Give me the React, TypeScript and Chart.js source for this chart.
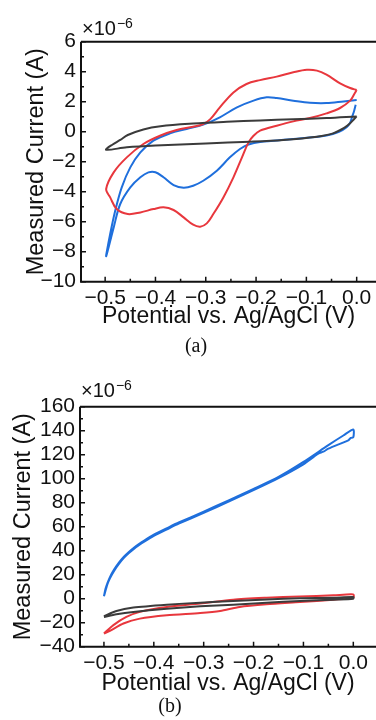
import React, { useEffect, useRef } from "react";
import { Chart, registerables } from "chart.js";

Chart.register(...registerables);

// ---------- Data: chart (a) ----------
const xTicksA = [-0.5, -0.4, -0.3, -0.2, -0.1, 0.0];
const xTickLabelsA = ["−0.5", "−0.4", "−0.3", "−0.2", "−0.1", "0.0"];
const xMinorA = [-0.45, -0.35, -0.25, -0.15, -0.05];
const yTicksA = [-10, -8, -6, -4, -2, 0, 2, 4, 6];
const yTickLabelsA = ["−10", "−8", "−6", "−4", "−2", "0", "2", "4", "6"];
const yMinorA = [-9, -7, -5, -3, -1, 1, 3, 5];

const blackA: [number, number][] = [
  [0.0, 1.02], [-0.005, 0.85], [-0.013, 0.56], [-0.025, 0.25], [-0.047, -0.11],
  [-0.079, -0.33], [-0.146, -0.55], [-0.212, -0.67], [-0.3, -0.78], [-0.4, -0.92],
  [-0.457, -1.04], [-0.498, -1.2], [-0.485, -0.85], [-0.47, -0.55], [-0.455, -0.22],
  [-0.424, 0.15], [-0.39, 0.36], [-0.325, 0.54], [-0.258, 0.66], [-0.192, 0.75],
  [-0.126, 0.83], [-0.06, 0.91], [0.0, 1.02],
];

const redA: [number, number][] = [
  [0.0, 2.78], [-0.005, 2.5], [-0.013, 2.07], [-0.033, 1.58], [-0.06, 1.22],
  [-0.093, 0.91], [-0.126, 0.69], [-0.159, 0.4], [-0.192, 0.07], [-0.205, -0.27],
  [-0.215, -0.71], [-0.228, -1.71], [-0.245, -3.04], [-0.265, -4.38], [-0.285, -5.49],
  [-0.298, -6.11], [-0.311, -6.33], [-0.325, -6.2], [-0.344, -5.71], [-0.364, -5.22],
  [-0.384, -5.04], [-0.404, -5.16], [-0.43, -5.38], [-0.455, -5.49], [-0.477, -5.16],
  [-0.49, -4.38], [-0.498, -3.82], [-0.483, -2.71], [-0.457, -1.71], [-0.424, -0.82],
  [-0.391, -0.27], [-0.358, 0.11], [-0.325, 0.33], [-0.305, 0.51], [-0.291, 0.84],
  [-0.272, 1.62], [-0.245, 2.62], [-0.219, 3.18], [-0.192, 3.44], [-0.159, 3.67],
  [-0.126, 3.96], [-0.099, 4.13], [-0.079, 4.07], [-0.06, 3.8], [-0.033, 3.22],
  [-0.013, 2.91], [0.0, 2.78],
];

const blueA: [number, number][] = [
  [-0.002, 1.8], [-0.005, 1.4], [-0.009, 1.0], [-0.013, 0.6], [-0.02, 0.3],
  [-0.035, 0.0], [-0.06, -0.25], [-0.126, -0.49], [-0.192, -0.68], [-0.215, -0.85],
  [-0.232, -1.15], [-0.252, -1.71], [-0.278, -2.6], [-0.305, -3.27], [-0.325, -3.6],
  [-0.344, -3.74], [-0.364, -3.56], [-0.384, -3.04], [-0.4, -2.7], [-0.414, -2.71],
  [-0.43, -3.04], [-0.45, -3.71], [-0.47, -4.82], [-0.483, -6.38], [-0.498, -8.3],
  [-0.49, -6.82], [-0.48, -5.27], [-0.467, -3.71], [-0.45, -2.38], [-0.43, -1.38],
  [-0.404, -0.6], [-0.371, -0.11], [-0.338, 0.18], [-0.305, 0.47], [-0.272, 0.96],
  [-0.238, 1.62], [-0.205, 2.07], [-0.179, 2.29], [-0.159, 2.24], [-0.126, 2.07],
  [-0.093, 1.93], [-0.06, 1.91], [-0.026, 2.02], [0.0, 2.11],
];

// ---------- Data: chart (b) ----------
const xTicksB = [-0.5, -0.4, -0.3, -0.2, -0.1, 0.0];
const xTickLabelsB = ["−0.5", "−0.4", "−0.3", "−0.2", "−0.1", "0.0"];
const xMinorB = [-0.45, -0.35, -0.25, -0.15, -0.05];
const yTicksB = [-40, -20, 0, 20, 40, 60, 80, 100, 120, 140, 160];
const yTickLabelsB = ["−40", "−20", "0", "20", "40", "60", "80", "100", "120", "140", "160"];
const yMinorB = [-30, -10, 10, 30, 50, 70, 90, 110, 130, 150];

const blackB: [number, number][] = [
  [-0.5, -14.6], [-0.475, -10.2], [-0.441, -7.4], [-0.374, -5.0], [-0.307, -3.3],
  [-0.241, -1.9], [-0.174, -0.6], [-0.107, 0.3], [-0.04, 0.8], [0.0, 1.4],
  [0.0, 0.0], [-0.04, -0.8], [-0.107, -1.9], [-0.174, -3.3], [-0.241, -5.0],
  [-0.307, -6.3], [-0.374, -8.3], [-0.441, -11.0], [-0.475, -13.0], [-0.5, -15.2],
];

const redB: [number, number][] = [
  [-0.5, -29], [-0.481, -22], [-0.455, -15.2], [-0.428, -11], [-0.374, -6.9],
  [-0.307, -4.1], [-0.241, -0.8], [-0.174, 0.8], [-0.107, 1.9], [-0.04, 2.8],
  [0.0, 3.6], [0.0, 0.8], [-0.04, -0.8], [-0.107, -2.8], [-0.174, -4.7],
  [-0.228, -6.9], [-0.267, -10.2], [-0.307, -11.9], [-0.374, -13.8], [-0.428, -16.6],
  [-0.461, -20.7], [-0.488, -26.8], [-0.5, -29],
];

const blueB: [number, number][] = [
  [-0.5, 2], [-0.497, 8], [-0.493, 13], [-0.488, 18], [-0.48, 24], [-0.47, 30],
  [-0.46, 35], [-0.45, 39], [-0.44, 42.5], [-0.43, 45.5], [-0.42, 48.3], [-0.4, 53.3],
  [-0.37, 59.5], [-0.35, 63.5], [-0.3, 72.5], [-0.25, 82], [-0.2, 91.5], [-0.15, 101.5],
  [-0.1, 114], [-0.05, 128], [-0.02, 136], [0.0, 141],
  [0.0, 134.5], [-0.005, 134], [-0.01, 132], [-0.05, 125], [-0.06, 122.5], [-0.07, 121],
  [-0.08, 118], [-0.1, 112], [-0.15, 100.5], [-0.2, 90.5], [-0.25, 81], [-0.3, 71.5],
  [-0.35, 62.5], [-0.37, 58.5], [-0.4, 52.3], [-0.42, 47.3], [-0.43, 44.5], [-0.44, 41.5],
  [-0.45, 38], [-0.46, 34], [-0.47, 29], [-0.48, 23], [-0.488, 17], [-0.493, 12], [-0.5, 2],
];

const BLACK = "#3b3b3b";
const RED = "#e8373d";
const BLUE = "#1f6fdc";
const INK = "#111111";
const SANS = '"Liberation Sans", Arial, sans-serif';
const SERIF = '"Liberation Serif", "Times New Roman", serif';

const framePlugin = {
  id: "frame",
  afterDraw(chart: any, _args: any, opts: any) {
    const { ctx, chartArea: a, scales } = chart;
    const x = scales.x;
    const y = scales.y;
    ctx.save();
    ctx.strokeStyle = INK;
    ctx.lineWidth = 2;
    ctx.beginPath();
    ctx.moveTo(a.left, a.top);
    ctx.lineTo(a.left, a.bottom);
    ctx.lineTo(a.right, a.bottom);
    ctx.moveTo(a.left, a.top);
    ctx.lineTo(chart.width, a.top);
    ctx.stroke();
    ctx.lineWidth = 1.5;
    ctx.beginPath();
    const xt = (vals: number[], len: number) => {
      vals.forEach((v) => {
        const px = x.getPixelForValue(v);
        ctx.moveTo(px, a.bottom);
        ctx.lineTo(px, a.bottom - len);
      });
    };
    const yt = (vals: number[], len: number) => {
      vals.forEach((v) => {
        const py = y.getPixelForValue(v);
        ctx.moveTo(a.left, py);
        ctx.lineTo(a.left + len, py);
      });
    };
    xt(opts.xMajor, 5);
    xt(opts.xMinor, 3);
    yt(opts.yMajor, 5);
    yt(opts.yMinor, 3);
    ctx.stroke();

    // exponent label
    ctx.fillStyle = INK;
    ctx.textAlign = "left";
    ctx.textBaseline = "alphabetic";
    ctx.font = `20px ${SANS}`;
    const bx = a.left + 1;
    const by = a.top - opts.expGap;
    ctx.fillText("×10", bx, by);
    const w = ctx.measureText("×10").width;
    ctx.font = `14px ${SANS}`;
    ctx.fillText("−6", bx + w + 1, by - 7);

    // caption
    ctx.font = `20px ${SERIF}`;
    ctx.textAlign = "center";
    ctx.textBaseline = "middle";
    ctx.fillText(opts.caption, opts.captionX, opts.captionY);
    ctx.restore();
  },
};

type Cfg = {
  top: number;
  series: { pts: [number, number][]; color: string }[];
  xMin: number;
  xMax: number;
  yMin: number;
  yMax: number;
  xTicks: number[];
  xLabels: string[];
  xMinor: number[];
  yTicks: number[];
  yLabels: string[];
  yMinor: number[];
  padTop: number;
  yAxisW: number;
  xAxisH: number;
  yTitlePad: number;
  xTitlePad: number;
  expGap: number;
  caption: string;
  captionX: number;
  tension: number;
};

function CVChart({ cfg }: { cfg: Cfg }) {
  const ref = useRef<HTMLCanvasElement>(null);
  useEffect(() => {
    if (!ref.current) return;
    const chart = new Chart(ref.current, {
      type: "scatter",
      data: {
        datasets: cfg.series.map((s) => ({
          data: s.pts.map(([px, py]) => ({ x: px, y: py })),
          borderColor: s.color,
          backgroundColor: s.color,
          borderWidth: 2,
          showLine: true,
          pointRadius: 0,
          tension: cfg.tension,
          fill: false,
        })),
      },
      options: {
        animation: false,
        responsive: true,
        maintainAspectRatio: false,
        layout: { padding: { top: cfg.padTop, left: 0, right: 0, bottom: 0 } },
        plugins: {
          legend: { display: false },
          tooltip: { enabled: false },
          frame: {
            xMajor: cfg.xTicks,
            xMinor: cfg.xMinor,
            yMajor: cfg.yTicks,
            yMinor: cfg.yMinor,
            expGap: cfg.expGap,
            caption: cfg.caption,
            captionX: cfg.captionX,
            captionY: 347,
          },
        } as any,
        scales: {
          x: {
            type: "linear",
            min: cfg.xMin,
            max: cfg.xMax,
            grid: { display: false, drawTicks: false },
            border: { display: false },
            afterBuildTicks: (s: any) => {
              s.ticks = cfg.xTicks.map((v) => ({ value: v }));
            },
            afterFit: (s: any) => {
              s.height = cfg.xAxisH;
            },
            ticks: {
              autoSkip: false,
              maxRotation: 0,
              padding: 4,
              color: INK,
              font: { family: SANS, size: 21 },
              callback: (_v: any, i: number) => cfg.xLabels[i],
            },
            title: {
              display: true,
              text: "Potential vs. Ag/AgCl (V)",
              color: INK,
              font: { family: SANS, size: 23 },
              padding: { top: 0, bottom: cfg.xTitlePad },
            },
          },
          y: {
            type: "linear",
            min: cfg.yMin,
            max: cfg.yMax,
            grid: { display: false, drawTicks: false },
            border: { display: false },
            afterBuildTicks: (s: any) => {
              s.ticks = cfg.yTicks.map((v) => ({ value: v }));
            },
            afterFit: (s: any) => {
              s.width = cfg.yAxisW;
            },
            ticks: {
              autoSkip: false,
              padding: 5,
              color: INK,
              font: { family: SANS, size: 21 },
              callback: (_v: any, i: number) => cfg.yLabels[i],
            },
            title: {
              display: true,
              text: "Measured Current (A)",
              color: INK,
              font: { family: SANS, size: 23.5 },
              padding: { top: cfg.yTitlePad, bottom: 0 },
            },
          },
        },
      } as any,
      plugins: [framePlugin],
    });
    return () => chart.destroy();
  }, [cfg]);
  return (
    <div style={{ position: "absolute", left: 0, top: cfg.top, width: 376, height: 360 }}>
      <canvas ref={ref} />
    </div>
  );
}

const cfgA: Cfg = {
  top: 0,
  series: [
    { pts: blackA, color: BLACK },
    { pts: redA, color: RED },
    { pts: blueA, color: BLUE },
  ],
  xMin: -0.548,
  xMax: 0.0384,
  yMin: -10,
  yMax: 6,
  xTicks: xTicksA,
  xLabels: xTickLabelsA,
  xMinor: xMinorA,
  yTicks: yTicksA,
  yLabels: yTickLabelsA,
  yMinor: yMinorA,
  padTop: 41.7,
  yAxisW: 81,
  xAxisH: 78.3,
  yTitlePad: 22,
  xTitlePad: 30,
  expGap: 6.7,
  caption: "(a)",
  captionX: 196,
  tension: 0.35,
};

const cfgB: Cfg = {
  top: 360,
  series: [
    { pts: blackB, color: BLACK },
    { pts: redB, color: RED },
    { pts: blueB, color: BLUE },
  ],
  xMin: -0.548,
  xMax: 0.0455,
  yMin: -40,
  yMax: 160,
  xTicks: xTicksB,
  xLabels: xTickLabelsB,
  xMinor: xMinorB,
  yTicks: yTicksB,
  yLabels: yTickLabelsB,
  yMinor: yMinorB,
  padTop: 46.7,
  yAxisW: 80,
  xAxisH: 73.3,
  yTitlePad: 9,
  xTitlePad: 22.5,
  expGap: 10,
  caption: "(b)",
  captionX: 170,
  tension: 0.25,
};

export default function App() {
  return (
    <div
      style={{
        position: "absolute",
        left: 0,
        top: 0,
        width: 376,
        height: 720,
        overflow: "hidden",
        background: "#ffffff",
      }}
    >
      <CVChart cfg={cfgA} />
      <CVChart cfg={cfgB} />
    </div>
  );
}
